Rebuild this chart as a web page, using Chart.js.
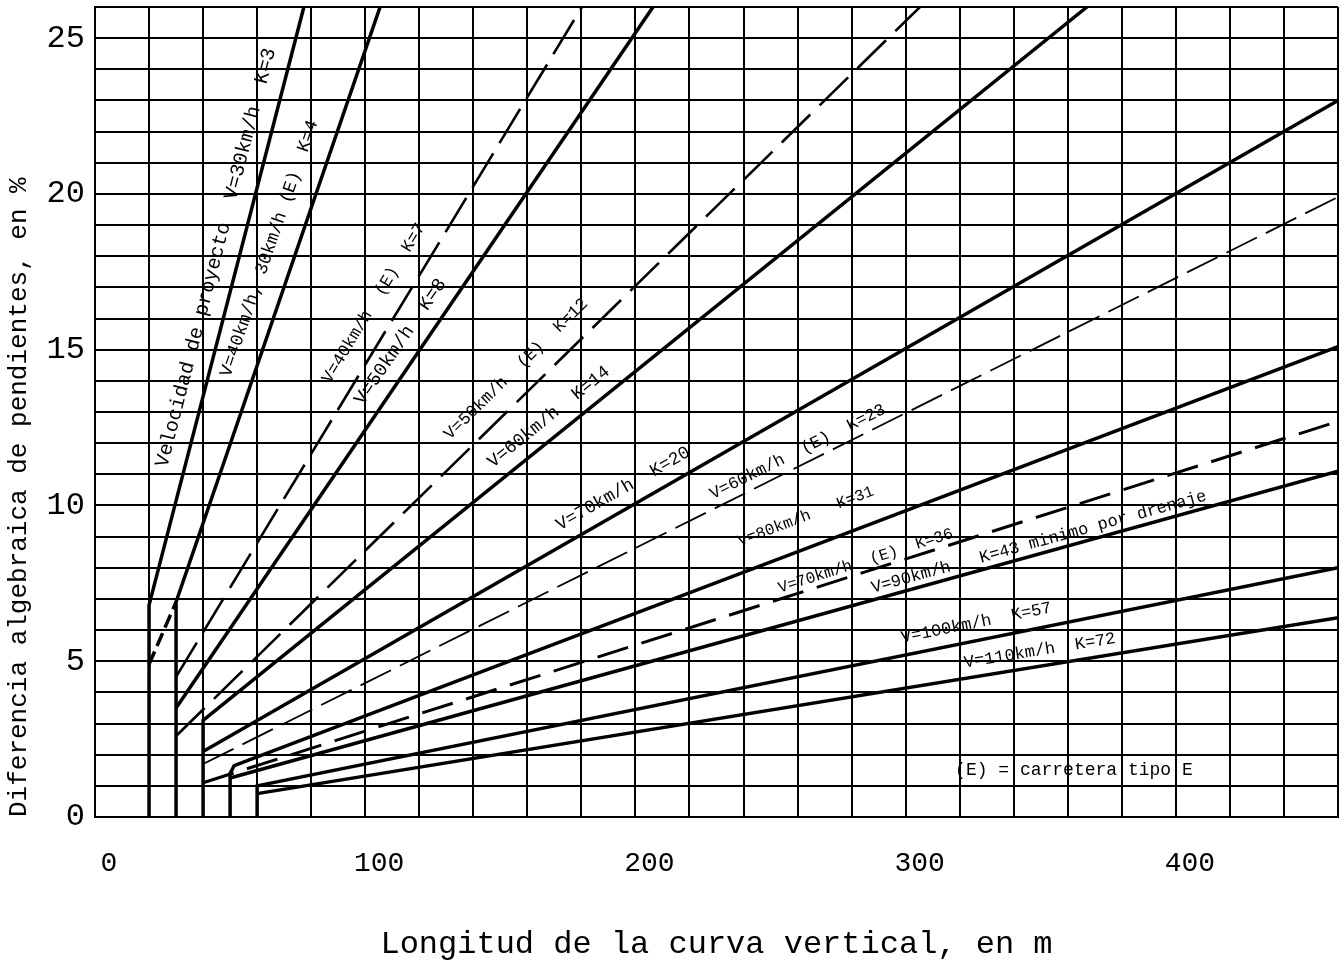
<!DOCTYPE html>
<html><head><meta charset="utf-8">
<script src="https://cdn.jsdelivr.net/npm/chart.js@4.4.1/dist/chart.umd.min.js"></script>
<style>html,body{margin:0;padding:0;background:#fff;}#wrap{width:1340px;height:970px;}</style>
</head><body><div id="wrap"><canvas id="c" width="1340" height="970"></canvas></div>
<script>
// ---------------- data ----------------
const xTickLabels = [0, 100, 200, 300, 400];
const yTickLabels = [0, 5, 10, 15, 20, 25];

// Longitud L (m) and Diferencia algebraica A (%) for every curve
const k3_L  = [20, 20, 77.3];        const k3_A  = [0, 6.8, 26];
const e30_L = [20, 30];              const e30_A = [4.9, 6.9];
const k4_L  = [30, 30, 105.5];       const k4_A  = [0, 6.9, 26];
const k7_L  = [30, 180.2];           const k7_A  = [4.5, 26];
const k8_L  = [30, 206.5];           const k8_A  = [3.5, 26];
const k12_L = [30, 305.3];           const k12_A = [2.6, 26];
const k14_L = [40, 40, 367.1];       const k14_A = [0, 3.1, 26];
const k20_L = [40, 460];             const k20_A = [2.1, 23.0];
const k23_L = [40, 460];             const k23_A = [1.7, 19.9];
const k31_L = [50, 50, 51.5, 460];   const k31_A = [0, 1.4, 1.65, 15.1];
const k36_L = [40, 460];             const k36_A = [1.1, 12.7];
const k43_L = [50, 460];             const k43_A = [1.25, 11.1];
const k57_L = [60, 60, 460];         const k57_A = [0, 1.0, 8.0];
const k72_L = [60, 460];             const k72_A = [0.75, 6.4];

const seriesNames = ['K=3','30(E)','K=4','K=7','K=8','K=12','K=14','K=20','K=23','K=31','K=36','K=43','K=57','K=72'];
const seriesL = [k3_L, e30_L, k4_L, k7_L, k8_L, k12_L, k14_L, k20_L, k23_L, k31_L, k36_L, k43_L, k57_L, k72_L];
const seriesA = [k3_A, e30_A, k4_A, k7_A, k8_A, k12_A, k14_A, k20_A, k23_A, k31_A, k36_A, k43_A, k57_A, k72_A];

const curveLabels = [
  'Velocidad de proyecto  V=30km/h  K=3',
  'V=40km/h, 30km/h (E)  K=4',
  'V=40km/h  (E)  K=7',
  'V=50km/h  K=8',
  'V=50km/h  (E)  K=12',
  'V=60km/h  K=14',
  'V=70km/h  K=20',
  'V=60km/h  (E)  K=23',
  'V=80km/h   K=31',
  'V=70km/h  (E)  K=36',
  'V=90km/h   K=43 minimo por drenaje',
  'V=100km/h  K=57',
  'V=110km/h  K=72'
];
const noteText = '(E) = carretera tipo E';

// ---------------- styles / layout (kept apart from data) ----------------
const styles = [
  {w:3.5, dash:[]}, {w:3.5, dash:[14,6]}, {w:3.5, dash:[]}, {w:2.6, dash:[40,12]},
  {w:3.5, dash:[]}, {w:2.6, dash:[40,13]}, {w:3.5, dash:[]}, {w:3.5, dash:[]},
  {w:1.8, dash:[34,10]}, {w:3.5, dash:[]}, {w:3, dash:[32,14]}, {w:3.5, dash:[]},
  {w:3.5, dash:[]}, {w:3.5, dash:[]}
];
// label placement: dataset index for the angle, anchor (data units), font size
const labelPlace = [
  {ds:0,  at:[26.6, 11.2], size:20},
  {ds:2,  at:[50.0, 14.1], size:18},
  {ds:3,  at:[87.0, 13.9], size:17},
  {ds:4,  at:[99.2, 13.2], size:19},
  {ds:5,  at:[131.4, 12.1], size:17},
  {ds:6,  at:[147.3, 11.2], size:18},
  {ds:7,  at:[172.1, 9.2], size:18},
  {ds:8,  at:[228.7, 10.2], size:17},
  {ds:9,  at:[238.7, 8.7], size:16},
  {ds:10, at:[253.5, 7.2], size:16},
  {ds:11, at:[287.9, 7.2], size:17},
  {ds:12, at:[298.7, 5.6], size:17},
  {ds:13, at:[322.0, 4.8], size:17}
];
const notePlace = {at:[318.3, 1.35], size:18};
const FONT = "'Liberation Mono', 'DejaVu Sans Mono', monospace";

const datasets = seriesL.map((L, i) => ({
  label: seriesNames[i],
  data: L.map((x, j) => ({x: x, y: seriesA[i][j]})),
  borderColor: '#000',
  borderWidth: styles[i].w,
  borderDash: styles[i].dash,
  pointRadius: 0,
  fill: false,
  tension: 0,
  borderCapStyle: 'butt'
}));

const labelPlugin = {
  id: 'curveLabels',
  afterDatasetsDraw(chart) {
    const ctx = chart.ctx, xs = chart.scales.x, ys = chart.scales.y;
    ctx.save();
    ctx.fillStyle = '#000';
    ctx.textAlign = 'left';
    ctx.textBaseline = 'alphabetic';
    labelPlace.forEach((p, i) => {
      const pts = chart.getDatasetMeta(p.ds).data;
      const a = pts[pts.length - 2], b = pts[pts.length - 1];
      const ang = Math.atan2(b.y - a.y, b.x - a.x);
      ctx.save();
      ctx.translate(xs.getPixelForValue(p.at[0]), ys.getPixelForValue(p.at[1]));
      ctx.rotate(ang);
      ctx.font = p.size + 'px ' + FONT;
      ctx.fillText(curveLabels[i], 0, 0);
      ctx.restore();
    });
    ctx.font = notePlace.size + 'px ' + FONT;
    ctx.fillText(noteText, xs.getPixelForValue(notePlace.at[0]), ys.getPixelForValue(notePlace.at[1]));
    ctx.restore();
  }
};

new Chart(document.getElementById('c'), {
  type: 'line',
  data: { datasets },
  plugins: [labelPlugin],
  options: {
    responsive: false,
    animation: false,
    events: [],
    layout: { padding: { top: 7, right: 2, left: 0, bottom: 0 } },
    plugins: { legend: { display: false }, tooltip: { enabled: false } },
    scales: {
      x: {
        type: 'linear', min: 0, max: 460,
        afterFit(s) { s.height = 153; s.paddingLeft = 0; s.paddingRight = 0; },
        grid: { color: '#000', lineWidth: 2, drawTicks: false },
        border: { color: '#000', width: 2 },
        ticks: {
          stepSize: 20, autoSkip: false, maxRotation: 0, padding: 30, labelOffset: 14,
          color: '#000', font: { family: FONT, size: 28 },
          callback: v => xTickLabels.includes(v) ? String(v) : ''
        },
        title: {
          display: true, text: 'Longitud de la curva vertical, en m', color: '#000',
          font: { family: FONT, size: 32 }, padding: { top: 0, bottom: 6 }
        }
      },
      y: {
        type: 'linear', min: 0, max: 26,
        afterFit(s) { s.width = 95; s.paddingTop = 0; s.paddingBottom = 0; },
        grid: { color: '#000', lineWidth: 2, drawTicks: false },
        border: { color: '#000', width: 2 },
        ticks: {
          stepSize: 1, autoSkip: false, padding: 10,
          color: '#000', font: { family: FONT, size: 32 },
          callback: v => yTickLabels.includes(v) ? String(v) : ''
        },
        title: {
          display: true, align: 'start', text: 'Diferencia algebraica de pendientes, en %', color: '#000',
          font: { family: FONT, size: 26 }, padding: { top: 4, bottom: 0 }
        }
      }
    }
  }
});
</script>
</body></html>
